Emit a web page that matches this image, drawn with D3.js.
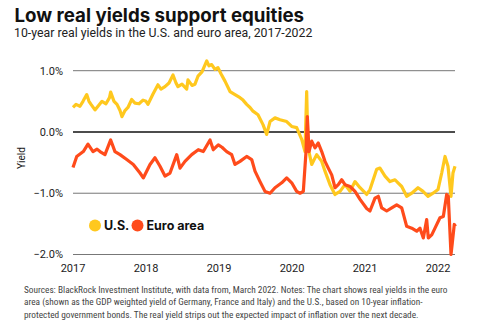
<!DOCTYPE html>
<html>
<head>
<meta charset="utf-8">
<script src="https://cdn.jsdelivr.net/npm/d3@7"></script>
<style>
  html, body { margin: 0; padding: 0; background: #fff; }
  svg { display: block; }
</style>
</head>
<body>
<svg id="chart" width="489" height="334"></svg>
<script>
// ---- Data (decimal years, yield in %) ----
const usTime = [2017.000,2017.041,2017.096,2017.137,2017.188,2017.219,2017.247,2017.301,2017.356,2017.397,2017.452,2017.500,2017.516,2017.562,2017.603,2017.644,2017.671,2017.712,2017.753,2017.804,2017.849,2017.904,2017.959,2018.000,2018.027,2018.096,2018.164,2018.205,2018.260,2018.315,2018.370,2018.411,2018.438,2018.493,2018.558,2018.575,2018.630,2018.671,2018.712,2018.767,2018.832,2018.863,2018.900,2018.945,2018.986,2019.027,2019.082,2019.151,2019.219,2019.288,2019.329,2019.379,2019.425,2019.466,2019.534,2019.603,2019.653,2019.699,2019.767,2019.836,2019.927,2019.996,2020.064,2020.133,2020.178,2020.201,2020.219,2020.270,2020.338,2020.407,2020.452,2020.521,2020.589,2020.658,2020.726,2020.795,2020.863,2020.932,2021.023,2021.068,2021.160,2021.205,2021.274,2021.342,2021.411,2021.452,2021.503,2021.571,2021.640,2021.726,2021.795,2021.863,2021.932,2022.000,2022.051,2022.096,2022.137,2022.178,2022.205,2022.233];
const usYield = [0.40,0.45,0.42,0.50,0.61,0.50,0.45,0.36,0.44,0.50,0.46,0.56,0.65,0.50,0.45,0.35,0.25,0.35,0.40,0.53,0.47,0.46,0.52,0.50,0.45,0.62,0.77,0.70,0.74,0.80,0.93,0.80,0.74,0.78,0.70,0.85,0.76,0.78,0.91,0.98,1.16,1.08,1.10,1.02,1.05,0.95,0.83,0.66,0.61,0.56,0.52,0.45,0.40,0.34,0.28,0.12,-0.04,0.17,0.23,0.20,0.17,0.09,0.07,-0.12,-0.32,0.66,-0.25,-0.53,-0.37,-0.48,-0.64,-0.86,-1.02,-0.97,-0.86,-0.97,-0.81,-0.91,-1.02,-0.94,-0.61,-0.59,-0.72,-0.81,-0.78,-0.83,-0.89,-1.05,-1.00,-0.91,-0.97,-1.05,-1.00,-0.94,-0.67,-0.40,-0.56,-1.05,-0.67,-0.56];

const euroTime = [2017.000,2017.051,2017.096,2017.141,2017.205,2017.274,2017.329,2017.370,2017.438,2017.516,2017.575,2017.644,2017.736,2017.826,2017.918,2017.963,2018.055,2018.123,2018.192,2018.260,2018.329,2018.421,2018.466,2018.534,2018.626,2018.716,2018.785,2018.877,2018.922,2018.990,2019.041,2019.105,2019.174,2019.219,2019.288,2019.379,2019.448,2019.493,2019.562,2019.630,2019.699,2019.767,2019.859,2019.927,2019.996,2020.064,2020.110,2020.155,2020.192,2020.210,2020.233,2020.270,2020.315,2020.360,2020.407,2020.452,2020.497,2020.544,2020.589,2020.634,2020.681,2020.726,2020.795,2020.863,2020.932,2021.023,2021.068,2021.137,2021.182,2021.229,2021.297,2021.366,2021.434,2021.503,2021.571,2021.640,2021.708,2021.753,2021.799,2021.845,2021.867,2021.914,2021.959,2022.027,2022.073,2022.119,2022.141,2022.178,2022.196,2022.223,2022.240];
const euroYield = [-0.58,-0.40,-0.36,-0.32,-0.20,-0.32,-0.28,-0.32,-0.37,-0.13,-0.32,-0.37,-0.45,-0.53,-0.67,-0.75,-0.53,-0.42,-0.56,-0.72,-0.67,-0.37,-0.59,-0.48,-0.37,-0.29,-0.32,-0.13,-0.29,-0.21,-0.25,-0.32,-0.37,-0.53,-0.48,-0.40,-0.45,-0.64,-0.81,-0.97,-1.00,-0.91,-0.83,-0.75,-0.83,-0.97,-1.00,-0.97,-0.32,0.25,-0.32,-0.15,-0.26,-0.18,-0.32,-0.48,-0.59,-0.70,-0.91,-0.86,-0.78,-0.86,-0.89,-0.97,-1.10,-1.25,-1.29,-1.08,-1.05,-1.24,-1.29,-1.24,-1.19,-1.24,-1.54,-1.57,-1.62,-1.57,-1.73,-1.43,-1.73,-1.68,-1.57,-1.40,-1.38,-1.02,-1.05,-2.00,-1.81,-1.51,-1.54];

const yTicks = [1, 0, -1, -2];
const xTicks = [2017, 2018, 2019, 2020, 2021, 2022];
const seriesNames = ["U.S.", "Euro area"];
const seriesColors = ["#FFC81E", "#FF4B1B"];

const title = "Low real yields support equities";
const subtitle = "10-year real yields in the U.S. and euro area, 2017-2022";
const footnote = [
  "Sources: BlackRock Investment Institute, with data from, March 2022. Notes: The chart shows real yields in the euro",
  "area (shown as the GDP weighted yield of Germany, France and Italy) and the U.S., based on 10-year inflation-",
  "protected government bonds. The real yield strips out the expected impact of inflation over the next decade."
];

// ---- Layout ----
const svg = d3.select("#chart");
const plot = { left: 73, right: 455, top: 70.7, bottom: 254.5 };

const x = d3.scaleLinear().domain([2017, 2022]).range([73, 438]);
const y = d3.scaleLinear().domain([-2, 1]).range([plot.bottom, plot.top]);

const sans = "Roboto, 'Noto Sans', Arial, sans-serif";

// Title
svg.append("text").attr("x", 14.5).attr("y", 22)
  .attr("font-family", "Inter, Roboto, sans-serif").attr("font-weight", 700)
  .attr("font-size", 18.7).attr("fill", "#111").text(title);
svg.append("text").attr("x", 14).attr("y", 37)
  .attr("font-family", sans).attr("font-size", 12.3).attr("fill", "#222").text(subtitle);

// Gridlines
const grid = svg.append("g");
grid.selectAll("line").data(yTicks).join("line")
  .attr("x1", plot.left).attr("x2", plot.right)
  .attr("y1", d => y(d)).attr("y2", d => y(d))
  .attr("stroke", d => d === 0 ? "#111" : "#777")
  .attr("stroke-width", d => d === 0 ? 1.6 : 1);

// Y tick labels
const fmt = d => (d === 0 ? "0.0" : d3.format(".1f")(d)) + "%";
svg.append("g").selectAll("text").data(yTicks).join("text")
  .attr("x", 63).attr("y", d => y(d)).attr("dy", "0.35em")
  .attr("text-anchor", "end").attr("font-family", sans).attr("font-size", 11)
  .attr("fill", "#222").text(d => fmt(d));

// X tick labels
svg.append("g").selectAll("text").data(xTicks).join("text")
  .attr("x", d => x(d)).attr("y", 272)
  .attr("text-anchor", "middle").attr("font-family", sans).attr("font-size", 11)
  .attr("fill", "#222").text(d => d);

// Y axis title
svg.append("text").attr("transform", "translate(25,158) rotate(-90)")
  .attr("text-anchor", "middle").attr("font-family", sans).attr("font-size", 10)
  .attr("fill", "#222").text("Yield");

// Lines
const line = d3.line().x(d => x(d[0])).y(d => y(d[1])).curve(d3.curveLinear);
const usData = d3.zip(usTime, usYield);
const euroData = d3.zip(euroTime, euroYield);
svg.append("path").datum(usData).attr("d", line)
  .attr("fill", "none").attr("stroke", seriesColors[0]).attr("stroke-width", 3.2)
  .attr("stroke-linejoin", "round");
svg.append("path").datum(euroData).attr("d", line)
  .attr("fill", "none").attr("stroke", seriesColors[1]).attr("stroke-width", 3.2)
  .attr("stroke-linejoin", "round");

// Legend
const leg = svg.append("g").attr("font-family", "Inter, Roboto, sans-serif")
  .attr("font-weight", 700).attr("font-size", 12.5).attr("fill", "#111");
const legX = [95, 137.5];
seriesNames.forEach((n, i) => {
  leg.append("circle").attr("cx", legX[i]).attr("cy", 225.5).attr("r", 6)
    .attr("fill", seriesColors[i]);
  leg.append("text").attr("x", legX[i] + 9).attr("y", 225.5).attr("dy", "0.35em").text(n);
});

// Footnote
svg.append("g").selectAll("text").data(footnote).join("text")
  .attr("x", 24).attr("y", (d, i) => 293 + i * 12.4)
  .attr("font-family", "'Liberation Sans Narrow', 'Roboto Condensed', Roboto, sans-serif")
  .attr("font-size", 9.3).attr("fill", "#444")
  .text(d => d);
</script>
</body>
</html>
